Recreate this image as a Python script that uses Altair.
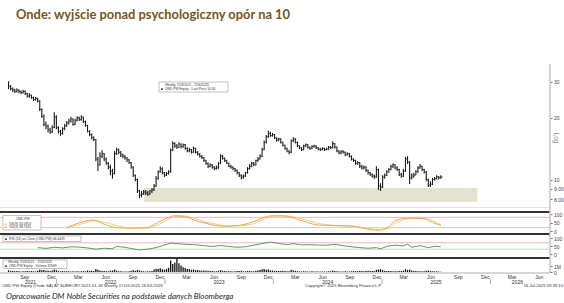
import altair as alt
import pandas as pd

TITLE = "Onde: wyjście ponad psychologiczny opór na 10"
CAPTION = "Opracowanie DM Noble Securities na podstawie danych Bloomberga"
FOOT_LEFT = "OND PW Equity (Onde SA) AT SUBECRY 2021-01-18   Weekly 17JUL2021-16JUL2025"
FOOT_MID = "Copyright\u00a9 2025 Bloomberg Finance L.P."
FOOT_RIGHT = "16-Jul-2025 09:39:10"

first_week = "2021-07-23"

close = [
    28.6, 27.8, 27.4, 27.0, 27.3, 26.9, 26.6, 27.0, 26.3, 25.6,
    25.9, 25.1, 24.6, 24.9, 24.2, 22.0, 20.4, 18.6, 18.2, 17.5,
    17.1, 18.0, 20.2, 17.9, 17.2, 16.8, 17.7, 18.3, 18.9, 19.3,
    19.8, 18.6, 19.5, 20.0, 19.7, 20.2, 19.2, 18.4, 17.2, 16.6,
    16.0, 15.7, 12.6, 11.8, 13.0, 13.4, 12.6, 12.0, 11.5, 11.0,
    10.7, 13.4, 14.0, 13.6, 13.2, 13.0, 12.8, 12.5, 12.1, 11.5,
    10.5, 10.0, 8.8, 8.4, 8.5, 8.7, 8.6, 8.5, 8.8, 8.9,
    9.3, 10.1, 10.9, 11.3, 10.8, 10.5, 10.7, 10.9, 13.9, 15.0,
    14.6, 14.4, 14.9, 14.5, 14.8, 14.2, 13.8, 14.0, 13.6, 14.2,
    13.6, 13.3, 13.0, 12.8, 12.4, 12.0, 11.6, 11.8, 11.5, 11.3,
    11.4, 12.0, 13.0, 12.7, 12.4, 12.0, 11.6, 11.5, 11.3, 11.1,
    10.8, 10.5, 10.3, 10.4, 10.8, 11.3, 11.6, 12.0, 11.8, 12.4,
    12.6, 13.0, 14.0, 15.2, 16.2, 16.8, 16.4, 16.6, 16.0, 15.6,
    15.8, 15.2, 14.7, 14.2, 13.8, 13.6, 15.5, 15.8, 15.2, 14.6,
    14.3, 14.0, 14.6, 14.8, 14.4, 14.2, 14.5, 14.6, 14.3, 14.1,
    14.0, 14.2, 14.0, 14.1, 14.4, 14.3, 15.0, 14.4, 13.8, 13.5,
    13.7, 13.6, 13.2, 13.4, 13.0, 12.6, 12.4, 12.0, 12.1, 11.6,
    11.4, 11.5, 11.1, 10.8, 10.6, 10.4, 10.3, 11.2, 9.3, 9.2,
    10.3, 10.5, 10.9, 11.2, 11.6, 11.8, 11.4, 11.2, 10.6, 10.4,
    11.0, 12.6, 12.2, 10.2, 10.4, 10.5, 10.9, 11.4, 11.6, 11.2,
    10.9, 10.0, 9.4, 9.5, 10.0, 10.1, 10.3, 10.2, 10.3,
]

high = [
    30.2, 29.0, 28.2, 27.8, 27.9, 27.6, 27.2, 27.5, 27.2, 26.5,
    26.4, 26.0, 25.4, 25.3, 25.1, 24.4, 22.3, 20.8, 19.2, 18.6,
    17.9, 18.4, 21.3, 20.6, 18.2, 17.5, 18.0, 18.7, 19.3, 19.8,
    20.3, 19.9, 19.8, 20.4, 20.3, 20.6, 20.3, 19.4, 18.5, 17.4,
    16.8, 16.3, 15.8, 12.9, 13.6, 13.9, 13.5, 12.8, 12.2, 11.8,
    11.3, 13.8, 14.3, 14.2, 13.8, 13.4, 13.2, 12.9, 12.6, 12.2,
    11.6, 10.6, 10.1, 8.9, 8.8, 8.9, 8.9, 8.8, 8.9, 9.1,
    9.5, 10.4, 11.1, 11.6, 11.5, 10.9, 10.9, 11.1, 14.2, 15.4,
    15.2, 14.9, 15.2, 15.0, 15.0, 14.9, 14.4, 14.3, 14.1, 14.5,
    14.3, 13.8, 13.5, 13.2, 12.9, 12.5, 12.1, 12.0, 11.9, 11.6,
    11.7, 12.2, 13.3, 13.2, 12.8, 12.5, 12.1, 11.8, 11.6, 11.4,
    11.2, 10.9, 10.6, 10.6, 10.9, 11.5, 11.9, 12.2, 12.2, 12.5,
    12.9, 13.3, 14.3, 15.5, 16.5, 17.3, 17.1, 16.9, 16.7, 16.1,
    16.0, 15.9, 15.3, 14.8, 14.3, 13.9, 15.7, 16.1, 15.9, 15.3,
    14.7, 14.4, 14.8, 15.0, 14.9, 14.5, 14.7, 14.8, 14.7, 14.4,
    14.3, 14.4, 14.3, 14.3, 14.6, 14.6, 15.4, 15.1, 14.5, 13.9,
    13.9, 13.9, 13.7, 13.6, 13.5, 13.1, 12.7, 12.5, 12.3, 12.2,
    11.8, 11.7, 11.6, 11.2, 10.9, 10.7, 10.6, 11.6, 11.3, 9.6,
    10.5, 10.7, 11.1, 11.4, 11.8, 12.0, 11.9, 11.6, 11.3, 10.8,
    11.3, 12.9, 13.0, 12.3, 10.7, 10.8, 11.1, 11.6, 11.9, 11.7,
    11.3, 11.0, 10.1, 9.8, 10.2, 10.3, 10.5, 10.4, 10.5,
]

low = [
    27.6, 27.2, 26.8, 26.5, 26.6, 26.4, 26.1, 26.3, 25.9, 25.2,
    25.1, 24.8, 24.2, 24.3, 23.8, 21.6, 20.0, 18.2, 17.6, 17.0,
    16.7, 16.9, 17.8, 17.6, 16.8, 16.3, 16.6, 17.4, 18.1, 18.6,
    19.0, 18.3, 18.4, 19.2, 19.3, 19.4, 18.9, 18.1, 17.0, 16.3,
    15.7, 15.4, 12.3, 11.0, 11.7, 12.7, 12.3, 11.8, 11.2, 10.5,
    10.1, 10.6, 13.2, 13.3, 12.9, 12.7, 12.5, 12.2, 11.9, 11.3,
    10.3, 9.8, 8.6, 8.1, 8.2, 8.4, 8.4, 8.3, 8.4, 8.6,
    8.8, 9.2, 10.0, 10.8, 10.6, 10.3, 10.4, 10.6, 10.8, 13.8,
    14.3, 14.1, 14.3, 14.2, 14.3, 14.0, 13.6, 13.6, 13.4, 13.5,
    13.4, 13.1, 12.8, 12.6, 12.2, 11.8, 11.4, 11.5, 11.3, 11.1,
    11.2, 11.3, 11.9, 12.5, 12.2, 11.9, 11.5, 11.3, 11.1, 10.9,
    10.6, 10.3, 10.0, 10.1, 10.3, 10.7, 11.2, 11.5, 11.6, 11.7,
    12.2, 12.5, 12.9, 13.9, 15.0, 16.0, 16.2, 16.2, 15.8, 15.3,
    15.4, 15.0, 14.5, 14.0, 13.6, 13.3, 13.5, 15.2, 15.0, 14.4,
    14.1, 13.8, 13.9, 14.4, 14.2, 14.0, 14.1, 14.3, 14.1, 13.9,
    13.8, 13.9, 13.8, 13.9, 14.0, 14.1, 14.2, 14.2, 13.6, 13.3,
    13.3, 13.4, 13.0, 13.1, 12.8, 12.4, 12.2, 11.8, 11.8, 11.4,
    11.2, 11.2, 10.9, 10.6, 10.4, 10.2, 10.1, 10.2, 8.9, 8.8,
    9.1, 10.1, 10.4, 10.8, 11.1, 11.4, 11.2, 11.0, 10.4, 10.2,
    10.3, 10.9, 11.9, 9.5, 10.0, 10.2, 10.5, 10.8, 11.3, 11.0,
    10.7, 9.8, 9.2, 9.2, 9.4, 9.9, 10.0, 10.0, 10.1,
]

volume_k = [
    310, 180, 150, 120, 160, 140, 90, 110, 130, 170,
    120, 150, 130, 110, 210, 380, 290, 340, 220, 260,
    180, 240, 420, 300, 150, 120, 160, 130, 110, 140,
    100, 130, 90, 120, 80, 110, 140, 120, 260, 180,
    220, 160, 520, 380, 240, 180, 150, 120, 140, 210,
    260, 410, 220, 130, 110, 90, 100, 80, 120, 200,
    280, 220, 330, 260, 150, 120, 90, 110, 130, 180,
    420, 560, 480, 620, 450, 380, 520, 700, 1900, 1350,
    1600, 2150, 1450, 1100, 800, 650, 520, 480, 390, 420,
    300, 350, 260, 220, 240, 190, 210, 170, 150, 130,
    120, 180, 320, 210, 150, 130, 110, 120, 100, 140,
    150, 170, 200, 130, 120, 160, 180, 140, 130, 190,
    240, 330, 450, 520, 380, 420, 280, 240, 200, 180,
    160, 150, 190, 170, 140, 120, 380, 260, 200, 140,
    110, 100, 130, 120, 90, 80, 110, 100, 90, 80,
    70, 90, 80, 100, 120, 110, 240, 160, 120, 100,
    90, 80, 110, 100, 90, 120, 140, 160, 130, 150,
    170, 140, 180, 200, 160, 150, 170, 380, 420, 460,
    300, 220, 180, 160, 150, 140, 130, 120, 170, 150,
    220, 480, 360, 400, 250, 180, 150, 130, 140, 120,
    130, 210, 250, 180, 130, 110, 100, 90, 33,
]

stoch_week = [28, 31, 36, 41, 45, 52, 57, 66, 71, 76, 80, 85, 89, 94, 100, 105, 112,
              119, 123, 127, 133, 140, 149, 156, 165, 171, 178, 183, 186, 191, 195,
              200, 204, 208]
stoch_k = [18, 35, 55, 65, 45, 20, 17, 18, 45, 75, 90, 85, 65, 48, 32, 28, 35,
           60, 80, 90, 88, 65, 35, 32, 28, 15, 5, 25, 60, 75, 76, 72, 50, 33]
stoch_d = [22, 28, 45, 60, 55, 32, 19, 17, 32, 62, 84, 88, 75, 56, 40, 30, 31,
           48, 70, 86, 90, 75, 45, 33, 30, 20, 9, 15, 45, 68, 76, 74, 60, 38]

rsi_week = [14, 18, 22, 26, 30, 34, 38, 42, 46, 50, 52, 56, 60, 63, 67, 71, 74, 78,
            82, 86, 90, 94, 98, 102, 106, 110, 114, 118, 122, 126, 130, 134, 137,
            141, 145, 149, 153, 157, 161, 165, 169, 173, 177, 179, 182, 186, 190,
            192, 194, 198, 202, 205, 208]
rsi_val = [40, 35, 42, 38, 45, 43, 38, 30, 36, 33, 48, 42, 32, 25, 30, 40, 52, 68,
           64, 60, 58, 52, 47, 53, 47, 42, 45, 55, 65, 75, 66, 58, 65, 57, 58, 56,
           55, 60, 52, 45, 40, 36, 40, 32, 48, 55, 50, 62, 42, 52, 40, 48, 46]

zone_dates = ["2022-10-23", "2025-11-18"]
zone_prices = [7.8, 9.1]

price_ticks = [8, 9, 10, 20, 30]
osc_ticks = [0, 50, 100]
vol_ticks = [0, 1000000]

month_labels = ["Sep", "Dec", "Mar", "Jun"] * 5
month_dates = ["2021-09-15", "2021-12-15", "2022-03-15", "2022-06-15", "2022-09-15",
               "2022-12-15", "2023-03-15", "2023-06-15", "2023-09-15", "2023-12-15",
               "2024-03-15", "2024-06-15", "2024-09-15", "2024-12-15", "2025-03-15",
               "2025-06-15", "2025-09-15", "2025-12-15", "2026-03-15", "2026-06-15"]
year_labels = ["2021", "2022", "2023", "2024", "2025", "2026"]
year_dates = ["2021-10-05", "2022-07-02", "2023-07-02", "2024-07-02", "2025-07-02", "2026-04-02"]
year_breaks = ["2022-01-01", "2023-01-01", "2024-01-01", "2025-01-01", "2026-01-01"]

# ---------------------------------------------------------------- tables
dates = pd.date_range(first_week, periods=len(close), freq="7D")
ohlc = pd.DataFrame({"date": dates, "high": high, "low": low, "close": close,
                     "vol": [v * 1000 for v in volume_k]})
stoch = pd.DataFrame({"date": dates[stoch_week], "k": stoch_k, "d": stoch_d})
rsi = pd.DataFrame({"date": dates[rsi_week], "rsi": rsi_val})
zone = pd.DataFrame({"d1": [pd.Timestamp(zone_dates[0])], "d2": [pd.Timestamp(zone_dates[1])],
                     "p1": [zone_prices[0]], "p2": [zone_prices[1]]})
months = pd.DataFrame({"d": pd.to_datetime(month_dates), "lab": month_labels})
years = pd.DataFrame({"d": pd.to_datetime(year_dates), "lab": year_labels})
breaks = pd.DataFrame({"d": pd.to_datetime(year_breaks)})
stoch_ref = pd.DataFrame({"v": [80, 20], "c": ["#f2a3a3", "#a6dba6"]})
rsi_ref = pd.DataFrame({"v": [70, 30], "c": ["#f2a3a3", "#a6dba6"]})
one = pd.DataFrame({"a": [0]})

# ---------------------------------------------------------------- scales
xs = alt.Scale(domain=[alt.DateTime(year=2021, month=7, date=11),
                       alt.DateTime(year=2026, month=7, date=4)])
ys_main = alt.Scale(type="log", domain=[7.02, 36.7], range=[211, 64], nice=False)
ys_stoch = alt.Scale(domain=[0, 100], range=[231, 214], nice=False, zero=False)
ys_rsi = alt.Scale(domain=[0, 100], range=[254, 238], nice=False, zero=False)
ys_vol = alt.Scale(domain=[0, 2500000], range=[272, 257], nice=False)

common_ax = dict(orient="right", title=None, domain=False, grid=False, tickSize=2,
                 labelOverlap=False)
ax_main = alt.Axis(values=price_ticks,
                   labelExpr="datum.value < 10 ? format(datum.value, '.2f') : format(datum.value, 'd')",
                   **common_ax)
ax_osc = alt.Axis(values=osc_ticks, format="d", **common_ax)
ax_vol = alt.Axis(values=vol_ticks, labelExpr="datum.value == 0 ? '0' : '1M'", **common_ax)


def X(f):
    return alt.X(f, type="temporal", scale=xs, axis=None)


# ---------------------------------------------------------------- main panel
zone_l = alt.Chart(zone).mark_rect(color="#e4e2d1").encode(
    x=X("d1"), x2="d2:T",
    y=alt.Y("p1:Q", scale=ys_main, axis=ax_main), y2="p2:Q")
bars = alt.Chart(ohlc).mark_rule(color="#1a1a1a", strokeWidth=1.1).encode(
    x=X("date"), y=alt.Y("low:Q", scale=ys_main, axis=ax_main), y2="high:Q")
closes = alt.Chart(ohlc).mark_tick(orient="horizontal", size=2, thickness=1,
                                   color="#1a1a1a", xOffset=1).encode(
    x=X("date"), y=alt.Y("close:Q", scale=ys_main, axis=ax_main))
main = alt.layer(zone_l, bars, closes)

# ---------------------------------------------------------------- stochastic
s_ref = alt.Chart(stoch_ref).mark_rule(strokeWidth=0.8).encode(
    y=alt.Y("v:Q", scale=ys_stoch, axis=ax_osc), color=alt.Color("c:N", scale=None))
s_d = alt.Chart(stoch).mark_line(color="#e9d27c", strokeWidth=1, interpolate="monotone").encode(
    x=X("date"), y=alt.Y("d:Q", scale=ys_stoch, axis=ax_osc))
s_k = alt.Chart(stoch).mark_line(color="#f0a35a", strokeWidth=1, interpolate="monotone").encode(
    x=X("date"), y=alt.Y("k:Q", scale=ys_stoch, axis=ax_osc))
stoch_panel = alt.layer(s_ref, s_d, s_k)

# ---------------------------------------------------------------- RSI
r_ref = alt.Chart(rsi_ref).mark_rule(strokeWidth=0.8).encode(
    y=alt.Y("v:Q", scale=ys_rsi, axis=ax_osc), color=alt.Color("c:N", scale=None))
r_line = alt.Chart(rsi).mark_line(color="#5e8559", strokeWidth=0.9).encode(
    x=X("date"), y=alt.Y("rsi:Q", scale=ys_rsi, axis=ax_osc))
rsi_panel = alt.layer(r_ref, r_line)

# ---------------------------------------------------------------- volume
vol_panel = alt.Chart(ohlc).mark_bar(size=1.3, color="#111111").encode(
    x=X("date"), y=alt.Y("vol:Q", scale=ys_vol, axis=ax_vol))

# ---------------------------------------------------------------- decorations
def hline(y, color="#333333", w=2.0, x1=0, x2=550):
    return alt.Chart(one).mark_rule(color=color, strokeWidth=w).encode(
        x=alt.value(x1), x2=alt.value(x2), y=alt.value(y))


def box(x1, y1, x2, y2):
    return alt.Chart(one).mark_rect(fill="white", stroke="#9a9a9a", strokeWidth=0.6).encode(
        x=alt.value(x1), x2=alt.value(x2), y=alt.value(y1), y2=alt.value(y2))


def txt(s, x, y, size=4.0, color="#333333", align="left", font="Liberation Sans",
        weight="normal", style="normal", angle=0):
    return alt.Chart(one).mark_text(text=s, align=align, baseline="middle", fontSize=size,
                                    color=color, font=font, fontWeight=weight,
                                    fontStyle=style, angle=angle).encode(
        x=alt.value(x), y=alt.value(y))


axis_line = alt.Chart(one).mark_rule(color="#c4c4c4", strokeWidth=1.5).encode(
    x=alt.value(550), y=alt.value(64), y2=alt.value(273))

month_text = alt.Chart(months).mark_text(fontSize=5, color="#333333", font="Liberation Sans",
                                         baseline="middle").encode(
    x=X("d"), y=alt.value(277), text="lab:N")
year_text = alt.Chart(years).mark_text(fontSize=5, color="#333333", font="Liberation Sans",
                                       baseline="middle").encode(
    x=X("d"), y=alt.value(281.5), text="lab:N")
year_sep = alt.Chart(breaks).mark_rule(color="#777777", strokeWidth=0.6).encode(
    x=X("d"), y=alt.value(279), y2=alt.value(284))

decor = [
    hline(207.5, "#dddddd", 0.8),
    hline(212), hline(234), hline(258),
    hline(273, "#9a9a9a", 0.8),
    axis_line,
    txt("Log", 556, 138, 6.5, "#8a8a8a", "center", angle=90),
    # main legend
    box(159, 82, 228, 92),
    txt("Weekly 7/23/2021 - 7/16/2025", 165, 85, 3.3),
    txt("\u25a0", 161, 89.3, 3.3, "#111111"),
    txt("OND PW Equity - Last Price   10.30", 165, 89.3, 3.3),
    # stochastic legend
    box(3, 215.5, 41, 230),
    txt("OND PW", 16, 219, 3.3),
    txt("\u25a0", 5, 223.5, 3.3, "#e9c56a"),
    txt("%K(9)    33.0753", 9, 223.5, 3.3),
    txt("\u25a0", 5, 227.3, 3.3, "#f0a35a"),
    txt("%D(3)    38.7625", 9, 227.3, 3.3),
    # RSI legend
    box(3, 236, 81, 241.5),
    txt("\u25a0", 5, 238.8, 3.3, "#111111"),
    txt("RSI (14) on Close (OND PW)  46.4429", 9, 238.8, 3.3),
    # volume legend
    box(3, 260, 67, 268.5),
    txt("Weekly 7/23/2021 - 7/16/2025", 8, 262.3, 3.3),
    txt("\u25a0", 5, 266, 3.3, "#111111"),
    txt("OND PW Equity - Volume  32669", 9, 266, 3.3),
    month_text, year_text, year_sep,
    txt(FOOT_LEFT, 2, 286, 4.2),
    txt(FOOT_MID, 305, 286, 4.2),
    txt(FOOT_RIGHT, 563, 286, 4.2, align="right"),
    txt(TITLE, 16, 15, 12.9, "#765526", font="Lato", weight="bold"),
    txt(CAPTION, 6, 297, 8.0, "#1e1e2a", font="Lato", style="italic"),
]

chart = alt.layer(main, stoch_panel, rsi_panel, vol_panel, *decor).resolve_scale(
    y="independent").resolve_axis(y="independent").properties(
    width=550, height=303,
    padding={"left": 0, "top": 0, "right": 14, "bottom": 0},
    autosize=alt.AutoSizeParams(type="none"),
    background="white",
).configure_view(stroke=None).configure_axis(
    labelFont="Liberation Sans", labelFontSize=5, labelColor="#444444",
    tickColor="#444444", tickWidth=0.8, labelPadding=1.5)

chart.save("out.html", embed_options={"renderer": "svg", "actions": False})
